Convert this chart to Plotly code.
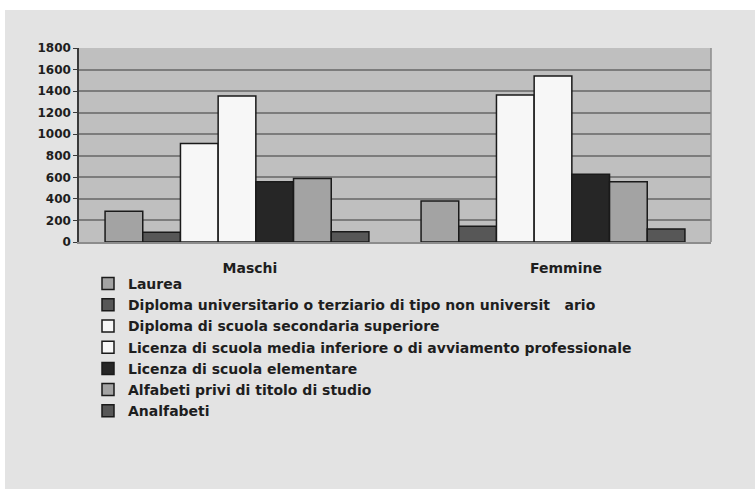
import plotly.graph_objects as go

# Categories on the x axis
groups = ["Maschi", "Femmine"]

# Education level series (values per group)
laurea = [285, 380]
diploma_universitario = [90, 145]
diploma_superiore = [915, 1365]
licenza_media = [1355, 1540]
licenza_elementare = [560, 628]
alfabeti_senza_titolo = [590, 560]
analfabeti = [95, 120]

series_names = [
    "Laurea",
    "Diploma universitario o terziario di tipo non universit\u00a0\u00a0\u00a0ario",
    "Diploma di scuola secondaria superiore",
    "Licenza di scuola media inferiore o di avviamento professionale",
    "Licenza di scuola elementare",
    "Alfabeti privi di titolo di studio",
    "Analfabeti",
]
series_values = [
    laurea,
    diploma_universitario,
    diploma_superiore,
    licenza_media,
    licenza_elementare,
    alfabeti_senza_titolo,
    analfabeti,
]
series_colors = ["#a3a3a3", "#575757", "#f7f7f7", "#f7f7f7", "#262626", "#a3a3a3", "#575757"]

y_ticks = [0, 200, 400, 600, 800, 1000, 1200, 1400, 1600, 1800]

W, H = 755, 489
L, R, T, B = 79, 44, 48, 247
PW, PH = W - L - R, H - T - B

FONT = "DejaVu Sans"
TEXT = "#1e1e1e"

fig = go.Figure()
for name, vals, col in zip(series_names, series_values, series_colors):
    fig.add_trace(go.Bar(
        x=groups, y=vals, name=name,
        marker=dict(color=col, line=dict(color="#1a1a1a", width=1.5)),
    ))


def px_x(p):
    return (p - L) / PW


def px_y(p):
    return (H - B - p) / PH


shapes = [
    # white frame strips at the top and left of the page
    dict(type="rect", xref="paper", yref="paper",
         x0=px_x(0), x1=px_x(W), y0=px_y(0), y1=px_y(10),
         fillcolor="white", line=dict(width=0), layer="below"),
    dict(type="rect", xref="paper", yref="paper",
         x0=px_x(0), x1=px_x(5), y0=px_y(0), y1=px_y(H),
         fillcolor="white", line=dict(width=0), layer="below"),
    # right border of the plot area
    dict(type="line", xref="paper", yref="paper", x0=1, x1=1, y0=0, y1=1,
         line=dict(color="#8c8c8c", width=1.5)),
]

fig.update_layout(
    width=W, height=H,
    margin=dict(l=L, r=R, t=T, b=B),
    paper_bgcolor="#e3e3e3",
    plot_bgcolor="#bfbfbf",
    barmode="group",
    bargap=0.165,
    bargroupgap=0,
    font=dict(family=FONT, size=12, color=TEXT, weight="bold"),
    showlegend=True,
    legend=dict(
        x=px_x(88), y=px_y(268), xanchor="left", yanchor="top",
        bgcolor="rgba(0,0,0,0)", font=dict(family=FONT, size=14, color=TEXT, weight="bold"),
        traceorder="normal", itemwidth=30, tracegroupgap=0,
    ),
    shapes=shapes,
    xaxis=dict(
        showgrid=False, showline=True, linecolor="#8c8c8c", linewidth=1.5,
        ticks="", ticklabelshift=13, ticklabelstandoff=12,
        tickfont=dict(family=FONT, size=14, color=TEXT, weight="bold"),
    ),
    yaxis=dict(
        range=[0, 1800], tickvals=y_ticks, ticktext=[str(v) for v in y_ticks],
        showgrid=True, gridcolor="#7c7c7c", gridwidth=1.5,
        zeroline=False, showline=True, linecolor="#3a3a3a", linewidth=1.5,
        ticks="outside", ticklen=4, tickcolor="#3a3a3a",
        tickfont=dict(family=FONT, size=12, color=TEXT, weight="bold"),
    ),
)

fig.write_html("out.html")
